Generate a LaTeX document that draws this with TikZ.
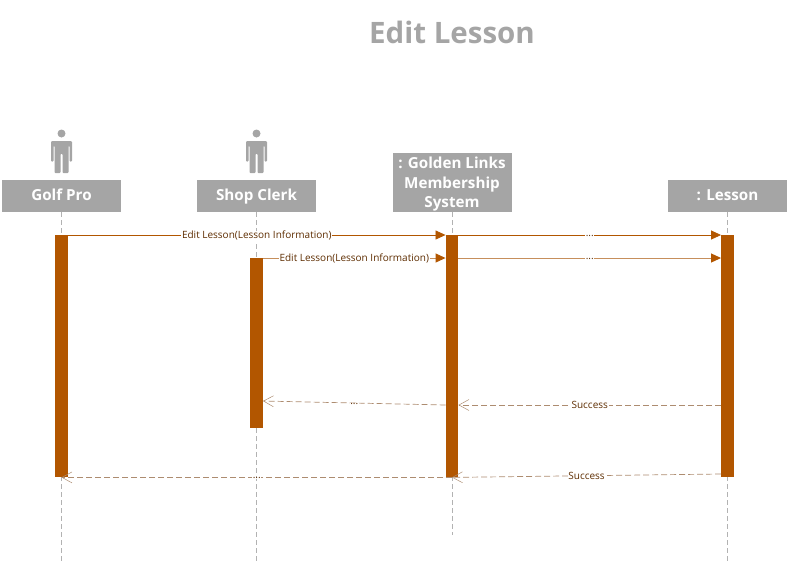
\documentclass[tikz,border=0pt]{standalone}
\usepackage{fontspec}
\setmainfont{Open Sans}
\usepackage{tikz}
\usetikzlibrary{positioning,arrows.meta}
\definecolor{headgray}{HTML}{A5A5A5}
\definecolor{barbrown}{HTML}{B25600}
\definecolor{lightbrown}{HTML}{C68F5C}
\definecolor{retbrown}{HTML}{AD8C70}
\definecolor{txtbrown}{HTML}{5E2D00}

\begin{document}
\begin{tikzpicture}[
  x=1pt, y=-1pt,
  title/.style={font=\fontsize{29.5}{32}\selectfont\bfseries, text=headgray, inner sep=0pt},
  head/.style={rectangle, fill=headgray, minimum width=119pt, minimum height=32pt, inner sep=0pt,
              anchor=south, align=center, text=white, text height=11pt, text depth=1pt,
              font=\fontsize{15.2}{19.5}\selectfont\bfseries},
  bar/.style={rectangle, fill=barbrown, minimum width=12.5pt, inner sep=0pt, anchor=north},
  life/.style={draw=black!30, line width=0.6pt, dash pattern=on 5pt off 3pt},
  lbl/.style={fill=white, inner sep=0.6pt, text=txtbrown, yshift=-0.8pt,
              font=\fontsize{10}{11}\selectfont},
  retlbl/.style={lbl, yshift=0.8pt},
  msg/.style={-{Triangle[length=10pt,width=9pt]}, draw=barbrown, line width=0.8pt},
  msglight/.style={draw=lightbrown, line width=1pt, -{Triangle[length=10pt,width=9pt,color=barbrown]}},
  ret/.style={-{Straight Barb[length=10pt,width=11pt,line width=0.5pt]},
              draw=retbrown, line width=0.7pt, dash pattern=on 6pt off 3pt},
  actor/.pic={
    \fill[headgray] (0,0) circle (4pt);
    \fill[headgray, rounded corners=1pt] (-10.5,7.5) -- (10.5,7.5) -- (10.5,28) -- (8,28) -- (8,12)
      -- (7,12) -- (7,39.5) -- (1,39.5) -- (1,20) -- (-1,20) -- (-1,39.5) -- (-7,39.5)
      -- (-7,12) -- (-8,12) -- (-8,28) -- (-10.5,28) -- cycle;
  }]
  \useasboundingbox (0,0) rectangle (789,563);
  \node[title] (Title) at (452,32) {Edit Lesson};
  % heads
  \node[head] (Golf) at (61.5,212) {Golf Pro};
  \node[head] (Clerk) at (256.5,212) {Shop Clerk};
  \node[head, minimum height=59pt, text height=52pt, text depth=1pt] (Sys) at (452,212) {: Golden Links\\Membership\\System};
  \node[head] (Lesson) at (727.5,212) {: Lesson};
  \pic at (61.5,133.5) {actor};
  \pic at (256.5,133.5) {actor};
  % lifelines
  \coordinate (GolfEnd) at (61.5,561);
  \coordinate (ClerkEnd) at (256.5,561);
  \coordinate (SysEnd) at (452,535);
  \coordinate (LessonEnd) at (727.5,561);
  \draw[life] (Golf) -- (GolfEnd);
  \draw[life] (Clerk) -- (ClerkEnd);
  \draw[life] (Sys) -- (SysEnd);
  \draw[life] (Lesson) -- (LessonEnd);
  % activations
  \node[bar, minimum height=242pt] (GolfBar) at (61.5,235) {};
  \node[bar, minimum height=170pt] (ClerkBar) at (256.5,258) {};
  \node[bar, minimum height=242pt] (SysBar) at (452,235) {};
  \node[bar, minimum height=242pt] (LessonBar) at (727.5,235) {};
  % rows
  \coordinate (RowB) at (0,258);
  \coordinate (RowC) at (0,405);
  \coordinate (RowD) at (0,401);
  \coordinate (RowE) at (0,474);
  % calls
  \draw[msg] (GolfBar.north east) -- node[lbl] {Edit Lesson(Lesson Information)} (SysBar.north west);
  \draw[msglight] (ClerkBar.north east) -- node[lbl] {Edit Lesson(Lesson Information)} (SysBar.west |- RowB);
  \draw[msg] (SysBar.north east) -- node[lbl] {...} (LessonBar.north west);
  \draw[msglight] (SysBar.east |- RowB) -- node[lbl] {...} (LessonBar.west |- RowB);
  % returns
  \draw[ret] (LessonBar.west |- RowC) -- node[retlbl] {Success} (SysBar.east |- RowC);
  \draw[ret] (SysBar.west |- RowC) -- node[lbl] {...} (ClerkBar.east |- RowD);
  \draw[ret] (LessonBar.west |- RowE) -- node[retlbl] {Success} (SysBar.south);
  \draw[ret] (SysBar.south) -- node[lbl] {...} (GolfBar.south);
\end{tikzpicture}
\end{document}
